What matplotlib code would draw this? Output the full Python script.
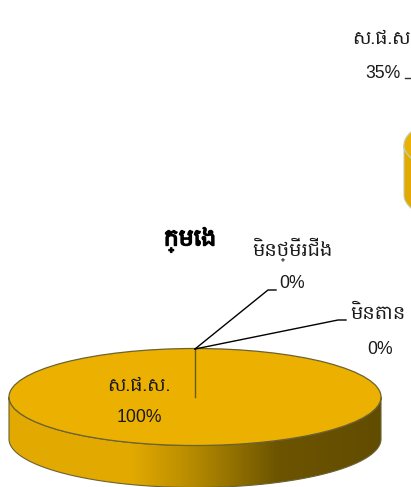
import matplotlib
matplotlib.use('Agg')
import matplotlib.pyplot as plt
import matplotlib.font_manager as fm
import matplotlib.patheffects as pe
import numpy as np
from matplotlib.patches import Polygon, Ellipse
from matplotlib.colors import LinearSegmentedColormap

khmer = [f.name for f in fm.fontManager.ttflist if 'khmer' in f.name.lower() or 'hanuman' in f.name.lower()]
plt.rcParams['font.family'] = khmer + ['Liberation Sans', 'DejaVu Sans']

title = 'ក្មេង'
labels = ['ស.ផ.ស.', 'មិនថ្មើរជើង', 'មិនតោន']
values = [100, 0, 0]
top_label = 'ស.ផ.ស'
top_values = [35, 65]

GOLD = '#ECB100'
W, H = 411, 487

fig = plt.figure(figsize=(W / 100, H / 100), dpi=100, facecolor='white')
ax = fig.add_axes([0, 0, 1, 1])
ax.set_xlim(0, W); ax.set_ylim(H, 0); ax.axis('off')

wall = LinearSegmentedColormap.from_list('wall', [(0, '#E2AA00'), (0.33, '#E2A900'), (0.5, '#B48900'),
                                                 (0.72, '#6C5400'), (1, '#624C00')])
flat = LinearSegmentedColormap.from_list('flat', ['#E2AA00', '#E2AA00'])

def pie_3d(cx, cy, rx, ry, depth, vals, cmap, edge):
    # side wall, gradient clipped to the lower half of the ellipse
    t = np.linspace(0, np.pi, 200)
    xs = cx + rx * np.cos(t)
    ys = cy + ry * np.sin(t)
    pts = np.r_[np.c_[xs, ys + depth], np.c_[xs[::-1], ys[::-1]]]
    side = Polygon(pts, closed=True, facecolor='none', edgecolor=edge, linewidth=0.8, zorder=2)
    ax.add_patch(side)
    im = ax.imshow(np.linspace(0, 1, 256)[None, :], cmap=cmap, aspect='auto', zorder=1,
                   extent=[cx - rx, cx + rx, cy + ry + depth, cy])
    im.set_clip_path(side)
    ax.set_xlim(0, W); ax.set_ylim(H, 0)
    # top face, pie on its own squashed axes
    pa = fig.add_axes([(cx - rx) / W, 1 - (cy + ry) / H, 2 * rx / W, 2 * ry / H], zorder=2)
    pa.pie(vals, colors=[GOLD] * len(vals), startangle=90, counterclock=False, radius=1,
           wedgeprops=dict(edgecolor='none', linewidth=0))
    pa.set_aspect('auto'); pa.set_xlim(-1, 1); pa.set_ylim(-1, 1)
    pa.patch.set_visible(False)
    pa.add_patch(Ellipse((0, 0), 2, 2, facecolor='none', edgecolor=edge, linewidth=0.9, clip_on=False))

pie_3d(195, 397, 186, 48.5, 42, values, wall, '#6b6232')
pie_3d(590, 145, 186, 48, 50, top_values, flat, '#BFCFA8')

# text and leaders live above the squashed pies
over = fig.add_axes([0, 0, 1, 1], zorder=5)
over.set_xlim(0, W); over.set_ylim(H, 0); over.axis('off')
over.plot([195, 195], [349, 397], color='#6b5a10', lw=1)
over.plot([195, 268, 276], [349, 290, 290], color='black', lw=1)
over.plot([195, 338, 346], [349, 320, 320], color='black', lw=1)
over.plot([405, 411], [78, 78], color='#333333', lw=1)

tc = '#1a1a1a'
pct = dict(fontsize=12.7, family='Liberation Sans', ha='center', va='center', color=tc)
over.text(190, 240, title, fontsize=17, fontweight='bold', ha='center', va='center', color='black',
          path_effects=[pe.withStroke(linewidth=1, foreground='black')])
over.text(292, 249, labels[1], fontsize=14, ha='center', va='center', color=tc)
over.text(292, 284, f'{values[1]}%', **pct)
over.text(350, 313, labels[2], fontsize=14, ha='left', va='center', color=tc)
over.text(380, 349, f'{values[2]}%', **pct)
over.text(352, 38, top_label, fontsize=14, ha='left', va='center', color=tc)
over.text(383, 73, f'{top_values[0]}%', **pct)
over.text(139, 385, labels[0], fontsize=14, ha='center', va='center', color=tc)
over.text(139, 418, f'{values[0]}%', **pct)

fig.savefig('out.png', dpi=100)
